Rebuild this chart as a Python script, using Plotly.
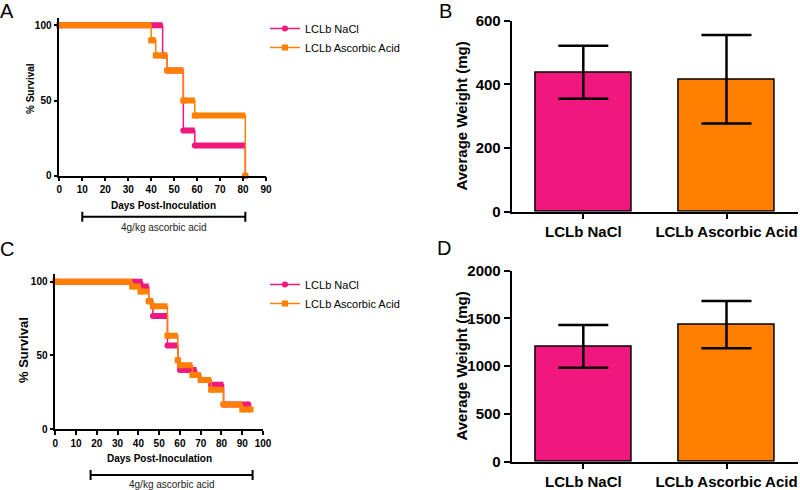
import plotly.graph_objects as go

W, H = 800, 490

# ---------------- data ----------------
# Panel A: Kaplan-Meier steps (day of change, % survival from that day)
a_nacl_days = [0, 45, 47, 54, 59, 81]
a_nacl_surv = [100, 80, 70, 30, 20, 0]
a_asc_days = [0, 40, 42, 47, 54, 59, 81]
a_asc_surv = [100, 90, 80, 70, 50, 40, 0]

# Panel C
c_nacl_days = [0, 42, 45, 47, 54, 59, 60, 68, 70, 75, 81, 93]
c_nacl_surv = [100, 96.7, 86.7, 76.7, 56.7, 46.7, 40, 36.7, 33.3, 30, 16.7, 16.7]
c_asc_days = [0, 37, 41, 45, 47, 54, 59, 60, 66, 70, 75, 81, 90, 94]
c_asc_surv = [100, 96.7, 93.3, 86.7, 83.3, 63.3, 46.7, 43.3, 36.7, 33.3, 26.7, 16.7, 13.3, 13.3]

# treatment windows (days)
treat_a = [10, 81]
treat_c = [17, 95]
treat_label = "4g/kg ascorbic acid"

# Panels B and D: average tumour weight (mg), mean and error
groups = ["LCLb NaCl", "LCLb Ascorbic Acid"]
b_mean = [438, 416]
b_err = [83, 139]
d_mean = [1207, 1435]
d_err = [224, 248]

# ---------------- style ----------------
PINK = "#F0187E"
ORANGE = "#FF8000"
FONT = "Liberation Sans, Arial, sans-serif"


def px_x(p):
    return p / W


def px_y(p):
    return 1 - p / H


def band(days, surv):
    xs, ys = [], []
    for i in range(len(days) - 1):
        xs += [days[i], days[i + 1], None]
        ys += [surv[i], surv[i], None]
    return xs, ys


fig = go.Figure()


def km(days, surv, name, color, symbol, xa, ya, legend, show):
    bx, by = band(days, surv)
    fig.add_trace(go.Scatter(x=bx, y=by, mode="lines", line=dict(color=color, width=6),
                             xaxis=xa, yaxis=ya, showlegend=False, hoverinfo="skip",
                             cliponaxis=False))
    fig.add_trace(go.Scatter(x=days, y=surv, mode="lines+markers", name=name,
                             line=dict(color=color, width=1.5, shape="hv"),
                             marker=dict(color=color, symbol=symbol, size=6),
                             xaxis=xa, yaxis=ya, legend=legend, showlegend=show,
                             cliponaxis=False))


km(a_nacl_days, a_nacl_surv, "LCLb NaCl", PINK, "circle", "x", "y", "legend", True)
km(a_asc_days, a_asc_surv, "LCLb Ascorbic Acid", ORANGE, "square", "x", "y", "legend", True)
km(c_nacl_days, c_nacl_surv, "LCLb NaCl", PINK, "circle", "x3", "y3", "legend2", True)
km(c_asc_days, c_asc_surv, "LCLb Ascorbic Acid", ORANGE, "square", "x3", "y3", "legend2", True)

for mean, err, xa, ya in [(b_mean, b_err, "x2", "y2"), (d_mean, d_err, "x4", "y4")]:
    fig.add_trace(go.Bar(x=groups, y=mean, xaxis=xa, yaxis=ya, width=0.67,
                         marker=dict(color=[PINK, ORANGE], line=dict(color="black", width=1.5)),
                         error_y=dict(type="data", array=err, visible=True, color="black",
                                      thickness=2.5, width=25),
                         showlegend=False))

bold10 = dict(family=FONT, size=10, color="black", weight="bold")
bold13 = dict(family=FONT, size=13, color="black", weight="bold")
bold15 = dict(family=FONT, size=15, color="black", weight="bold")

common = dict(showline=True, linecolor="black", showgrid=False, zeroline=False,
              tickcolor="black", ticks="outside", automargin=False, fixedrange=True)
km_x = dict(common, linewidth=1.5, ticklen=4, tickwidth=1.5, tickfont=bold10)
km_y = dict(common, linewidth=1.5, ticklen=4, tickwidth=1.5, tickfont=bold10,
            tickvals=[0, 50, 100], range=[0, 105])
bar_x = dict(common, linewidth=2, ticklen=5, tickwidth=2, tickfont=bold15, range=[-0.5, 1.5])
bar_y = dict(common, linewidth=2, ticklen=6, tickwidth=2, tickfont=bold15)

fig.update_layout(
    width=W, height=H, margin=dict(l=0, r=0, t=0, b=0, autoexpand=False),
    paper_bgcolor="white", plot_bgcolor="white", bargap=0,
    font=dict(family=FONT, color="black"),
    xaxis=dict(km_x, domain=[px_x(59.3), px_x(266)], range=[0, 90],
               tickvals=list(range(0, 91, 10)), anchor="y"),
    yaxis=dict(km_y, domain=[px_y(175.7), px_y(17.8)], anchor="x"),
    xaxis3=dict(km_x, domain=[px_x(55.3), px_x(263)], range=[0, 100],
                tickvals=list(range(0, 101, 10)), anchor="y3"),
    yaxis3=dict(km_y, domain=[px_y(429), px_y(274.3)], anchor="x3"),
    xaxis2=dict(bar_x, domain=[px_x(511.7), px_x(798.1)], anchor="y2"),
    yaxis2=dict(bar_y, domain=[px_y(211.7), px_y(20.7)], range=[0, 600],
                tickvals=[0, 200, 400, 600], anchor="x2"),
    xaxis4=dict(bar_x, domain=[px_x(511.7), px_x(798.1)], anchor="y4"),
    yaxis4=dict(bar_y, domain=[px_y(461.7), px_y(270.7)], range=[0, 2000],
                tickvals=[0, 500, 1000, 1500, 2000], anchor="x4"),
    legend=dict(x=px_x(265), y=px_y(14), xanchor="left", yanchor="top",
                bgcolor="rgba(0,0,0,0)", font=dict(family=FONT, size=11),
                tracegroupgap=0, itemwidth=30),
    legend2=dict(x=px_x(265), y=px_y(270), xanchor="left", yanchor="top",
                 bgcolor="rgba(0,0,0,0)", font=dict(family=FONT, size=11),
                 tracegroupgap=0, itemwidth=30),
)

shapes = []
annotations = []

# axis titles
for text, xp, yp, font, angle in [
    ("Days Post-Inoculation", 163.3, 205, bold10, 0),
    ("% Survival", 31, 89, bold10, -90),
    ("Days Post-Inoculation", 159, 458, bold10, 0),
    ("% Survival", 23, 350, bold13, -90),
    ("Average Weight (mg)", 461, 116.5, bold15, -90),
    ("Average Weight (mg)", 461, 366.5, bold15, -90),
]:
    annotations.append(dict(text=text, xref="paper", yref="paper", x=px_x(xp), y=px_y(yp),
                            showarrow=False, xanchor="center", yanchor="middle",
                            textangle=angle, font=font))

# treatment brackets
for treat, xr, ypx, typx in [(treat_a, "x", 216.7, 227.5), (treat_c, "x3", 475, 484)]:
    shapes.append(dict(type="line", xref=xr, yref="paper", x0=treat[0], x1=treat[1],
                       y0=px_y(ypx), y1=px_y(ypx), line=dict(color="black", width=2)))
    for t in treat:
        shapes.append(dict(type="line", xref=xr, yref="paper", x0=t, x1=t,
                           y0=px_y(ypx - 5), y1=px_y(ypx + 5), line=dict(color="black", width=2)))
    annotations.append(dict(text=treat_label, xref=xr, yref="paper",
                            x=(treat[0] + treat[1]) / 2, y=px_y(typx), showarrow=False,
                            font=dict(family=FONT, size=10, color="#222"),
                            xanchor="center", yanchor="middle"))

# panel letters
for letter, xp, yp in [("A", 7, 11), ("B", 445, 11), ("C", 7, 248.5), ("D", 444, 248)]:
    annotations.append(dict(text=letter, xref="paper", yref="paper", x=px_x(xp), y=px_y(yp),
                            showarrow=False, xanchor="center", yanchor="middle",
                            font=dict(family=FONT, size=20, color="black")))

fig.update_layout(shapes=shapes, annotations=annotations)
fig.write_html("out.html", config={"displayModeBar": False},
               post_script="document.body.style.margin='0';document.body.style.overflow='hidden';")
